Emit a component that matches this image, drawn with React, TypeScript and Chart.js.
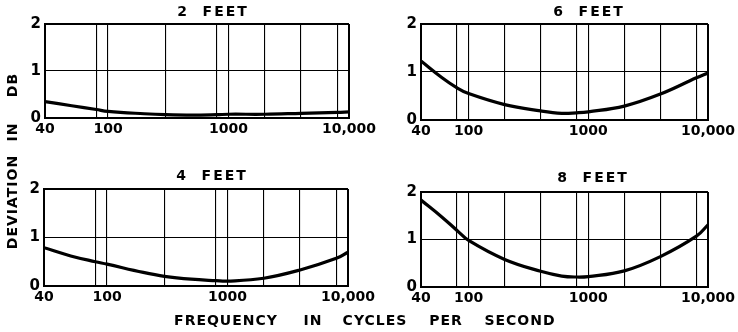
import { useEffect, useRef } from "react";
import { Chart, registerables } from "chart.js";

Chart.register(...registerables);

const FONT = "'DejaVu Sans', 'Liberation Sans', sans-serif";

// ---------- DATA ----------
// Left-hand panels: the drawn frequency paper starts a little below the "40" mark.
const leftFreqs = [30, 50, 80, 100, 200, 300, 500, 800, 1000, 2000, 4000, 8000, 10000];
const rightFreqs = [40, 60, 80, 100, 200, 400, 600, 800, 1000, 2000, 4000, 8000, 10000];

const dev2Feet = [0.35, 0.26, 0.18, 0.14, 0.09, 0.07, 0.06, 0.07, 0.08, 0.08, 0.1, 0.12, 0.13];
const dev4Feet = [0.79, 0.62, 0.5, 0.45, 0.28, 0.2, 0.14, 0.11, 0.1, 0.16, 0.33, 0.57, 0.7];
const dev6Feet = [1.23, 0.88, 0.67, 0.55, 0.32, 0.19, 0.14, 0.15, 0.17, 0.29, 0.54, 0.88, 0.98];
const dev8Feet = [1.83, 1.47, 1.19, 0.98, 0.58, 0.33, 0.23, 0.21, 0.22, 0.34, 0.64, 1.07, 1.31];

const leftGridFreqs = [30, 80, 100, 300, 800, 1000, 2000, 4000, 8000, 10000];
const rightGridFreqs = [40, 80, 100, 200, 400, 800, 1000, 2000, 4000, 8000, 10000];

const leftTickLabels: Record<number, string> = { 30: "40", 100: "100", 1000: "1000", 10000: "10,000" };
const rightTickLabels: Record<number, string> = { 40: "40", 100: "100", 1000: "1000", 10000: "10,000" };

const yMin = 0;
const yMax = 2;

const panelTitles = ["2  FEET", "6  FEET", "4  FEET", "8  FEET"];
const yAxisTitleWords = ["DEVIATION", "IN", "DB"];
const xAxisTitleWords = ["FREQUENCY", "IN", "CYCLES", "PER", "SECOND"];

// ---------- LAYOUT (pixel boxes of each plot frame) ----------
const W = 738;
const H = 332;
const Y_AXIS_W = 18;
const X_AXIS_H = 20;

type Box = { left: number; right: number; top: number; bottom: number };
const panelBoxes: Box[] = [
  { left: 45, right: 349, top: 24, bottom: 118 },
  { left: 421, right: 710, top: 24, bottom: 120 },
  { left: 44, right: 348, top: 189, bottom: 286 },
  { left: 421, right: 710, top: 192, bottom: 287 },
];
const titleOffsets = [
  { dx: 168, dy: 12 },
  { dx: 168, dy: 12 },
  { dx: 168, dy: 13 },
  { dx: 172, dy: 14 },
];
const yTitleLayout = { x: 13, centers: [202, 132, 85] };
const xTitleLayout = { y: 321, centers: [226, 313, 375, 446, 520] };

const panelTitlePlugin = {
  id: "panelTitle",
  afterDraw(chart: any, _args: any, opts: any) {
    const { ctx, chartArea } = chart;
    ctx.save();
    ctx.font = `bold 14px ${FONT}`;
    (ctx as any).letterSpacing = "2px";
    ctx.fillStyle = "#000";
    ctx.textAlign = "center";
    ctx.textBaseline = "middle";
    ctx.fillText(opts.text, chartArea.left + opts.dx, chartArea.top - opts.dy);
    ctx.restore();
  },
};

const sharedLabelsPlugin = {
  id: "sharedLabels",
  afterDraw(chart: any, _args: any, opts: any) {
    if (!opts || !opts.show) return;
    const { ctx } = chart;
    ctx.save();
    ctx.font = `bold 14px ${FONT}`;
    (ctx as any).letterSpacing = "1px";
    ctx.fillStyle = "#000";
    ctx.textAlign = "center";
    ctx.textBaseline = "middle";
    xAxisTitleWords.forEach((w, i) => {
      ctx.fillText(w, xTitleLayout.centers[i], xTitleLayout.y);
    });
    ctx.translate(yTitleLayout.x, 0);
    ctx.rotate(-Math.PI / 2);
    yAxisTitleWords.forEach((w, i) => {
      ctx.fillText(w, -yTitleLayout.centers[i], 0);
    });
    ctx.restore();
  },
};

type PanelCfg = {
  freqs: number[];
  values: number[];
  grid: number[];
  labels: Record<number, string>;
  title: string;
  box: Box;
  titleOffset: { dx: number; dy: number };
  shared: boolean;
};

const panels: PanelCfg[] = [
  { freqs: leftFreqs, values: dev2Feet, grid: leftGridFreqs, labels: leftTickLabels, title: panelTitles[0], box: panelBoxes[0], titleOffset: titleOffsets[0], shared: true },
  { freqs: rightFreqs, values: dev6Feet, grid: rightGridFreqs, labels: rightTickLabels, title: panelTitles[1], box: panelBoxes[1], titleOffset: titleOffsets[1], shared: false },
  { freqs: leftFreqs, values: dev4Feet, grid: leftGridFreqs, labels: leftTickLabels, title: panelTitles[2], box: panelBoxes[2], titleOffset: titleOffsets[2], shared: false },
  { freqs: rightFreqs, values: dev8Feet, grid: rightGridFreqs, labels: rightTickLabels, title: panelTitles[3], box: panelBoxes[3], titleOffset: titleOffsets[3], shared: false },
];

function Panel({ cfg }: { cfg: PanelCfg }) {
  const ref = useRef<HTMLCanvasElement | null>(null);
  useEffect(() => {
    if (!ref.current) return;
    const { box } = cfg;
    const data = cfg.freqs.map((f, i) => ({ x: f, y: cfg.values[i] }));
    const lastX = cfg.grid.length - 1;
    const chart = new Chart(ref.current, {
      type: "line",
      data: {
        datasets: [
          {
            data,
            borderColor: "#000",
            borderWidth: 3.2,
            pointRadius: 0,
            tension: 0.4,
            fill: false,
          },
        ],
      },
      plugins: [panelTitlePlugin, sharedLabelsPlugin],
      options: {
        animation: false,
        responsive: false,
        maintainAspectRatio: false,
        events: [],
        layout: {
          padding: {
            left: box.left - Y_AXIS_W,
            right: W - box.right,
            top: box.top,
            bottom: H - box.bottom - X_AXIS_H,
          },
        },
        plugins: {
          legend: { display: false },
          tooltip: { enabled: false },
          title: { display: false },
          panelTitle: { text: cfg.title, dx: cfg.titleOffset.dx, dy: cfg.titleOffset.dy },
          sharedLabels: { show: cfg.shared },
        } as any,
        scales: {
          x: {
            type: "logarithmic",
            min: cfg.grid[0],
            max: cfg.grid[lastX],
            afterBuildTicks: (scale: any) => {
              scale.ticks = cfg.grid.map((v) => ({ value: v }));
            },
            afterFit: (scale: any) => {
              scale.height = X_AXIS_H;
            },
            grid: {
              color: "#000",
              lineWidth: (c: any) => (c.index === lastX || c.index === 0 ? 2 : 1.1),
              drawTicks: false,
            },
            border: { display: true, color: "#000", width: 2 },
            ticks: {
              autoSkip: false,
              maxRotation: 0,
              padding: 3,
              color: "#000",
              font: { family: FONT, size: 14, weight: "bold" },
              callback: (v: any) => cfg.labels[Number(v)] ?? "",
            },
          },
          y: {
            type: "linear",
            min: yMin,
            max: yMax,
            afterFit: (scale: any) => {
              scale.width = Y_AXIS_W;
            },
            grid: {
              color: "#000",
              lineWidth: (c: any) => (c.index === 2 || c.index === 0 ? 2 : 1.1),
              drawTicks: false,
            },
            border: { display: true, color: "#000", width: 2 },
            ticks: {
              stepSize: 1,
              padding: 4,
              color: "#000",
              font: { family: FONT, size: 15, weight: "bold" },
            },
          },
        },
      } as any,
    });
    return () => chart.destroy();
  }, [cfg]);
  return (
    <canvas
      ref={ref}
      width={W}
      height={H}
      style={{ position: "absolute", left: 0, top: 0, width: W, height: H }}
    />
  );
}

export default function App() {
  return (
    <div
      style={{
        position: "absolute",
        left: 0,
        top: 0,
        width: W,
        height: H,
        background: "#fff",
        overflow: "hidden",
      }}
    >
      {panels.map((p, i) => (
        <Panel key={i} cfg={p} />
      ))}
    </div>
  );
}
